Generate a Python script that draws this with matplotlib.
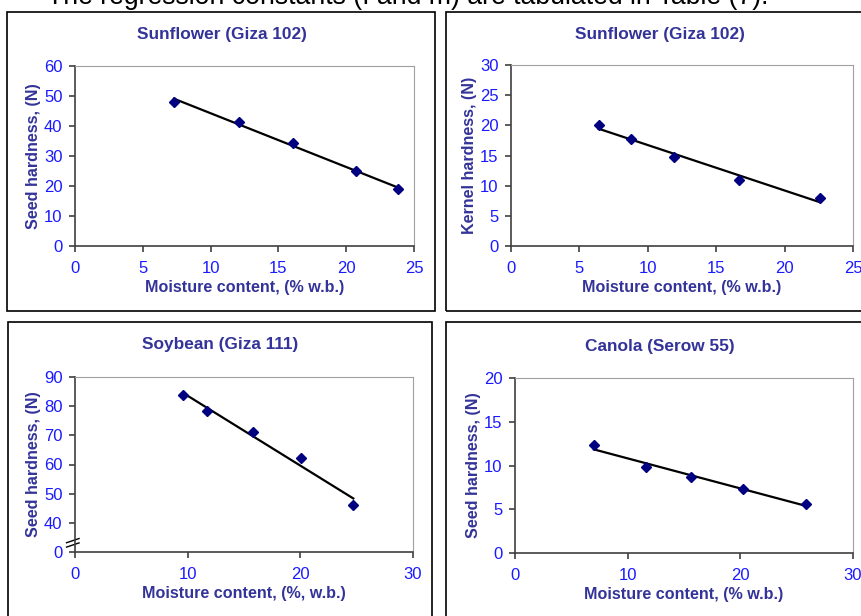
import numpy as np
import matplotlib
matplotlib.use('Agg')
import matplotlib.pyplot as plt
from matplotlib.patches import Rectangle

plt.rcParams['font.family'] = ['Liberation Sans', 'DejaVu Sans']

# Data (moisture content % w.b. vs hardness N)
sun_seed_mc = [7.3, 12.1, 16.1, 20.7, 23.8]
sun_seed_hard = [48.0, 41.5, 34.2, 24.9, 18.9]

sun_kernel_mc = [6.4, 8.8, 11.9, 16.7, 22.6]
sun_kernel_hard = [20.0, 17.7, 14.8, 10.9, 7.9]

soy_mc = [9.6, 11.7, 15.8, 20.1, 24.7]
soy_hard = [84.0, 78.2, 71.0, 62.1, 46.1]

canola_mc = [7.0, 11.6, 15.6, 20.2, 25.8]
canola_hard = [12.3, 9.8, 8.7, 7.3, 5.6]

titles = ['Sunflower (Giza 102)', 'Sunflower (Giza 102)', 'Soybean (Giza 111)', 'Canola (Serow 55)']
ylabels = ['Seed hardness, (N)', 'Kernel hardness, (N)', 'Seed hardness, (N)', 'Seed hardness, (N)']
xlabel = 'Moisture content, (% w.b.)'
soy_xlabel = 'Moisture content, (%, w.b.)'

navy = '#333399'
tick_blue = '#1a1aff'
marker_col = '#000080'

W, H = 861, 616
fig = plt.figure(figsize=(W / 100, H / 100), dpi=100)


def px_rect(x0, y0, x1, y1):
    # pixel box (top-left origin) -> figure fraction [l, b, w, h]
    return [x0 / W, 1 - y1 / H, (x1 - x0) / W, (y1 - y0) / H]


# panel frames
for (x0, y0, x1, y1) in [(7, 12, 435, 311), (446, 12, 875, 311),
                         (8, 322, 432, 630), (446, 322, 875, 630)]:
    l, b, w, h = px_rect(x0, y0, x1, y1)
    fig.patches.append(Rectangle((l, b), w, h, transform=fig.transFigure,
                                 fill=False, edgecolor='black', linewidth=1.2))

fig.text(47 / W, 1 - 4 / H, 'The regression constants (I and m) are tabulated in Table (7).',
         fontsize=19.2, ha='left', va='baseline', color='black')


def panel(rect, x, y, title, ylab, xlab, xmax, ymax, ystep, xstep, title_xy):
    ax = fig.add_axes(px_rect(*rect))
    ax.plot(x, y, linestyle='none', marker='D', markersize=4.8, color=marker_col, zorder=3)
    k, c = np.polyfit(x, y, 1)
    xs = np.array([min(x), max(x)])
    ax.plot(xs, k * xs + c, color='black', linewidth=1.6, zorder=2)
    ax.set_xlim(0, xmax)
    ax.set_ylim(0, ymax)
    ax.set_xticks(np.arange(0, xmax + 0.1, xstep))
    ax.set_yticks(np.arange(0, ymax + 0.1, ystep))
    for s in ['top', 'right']:
        ax.spines[s].set_color('#a0a0a0')
    for s in ['left', 'bottom']:
        ax.spines[s].set_color('#404040')
        ax.spines[s].set_linewidth(1.2)
    ax.tick_params(direction='out', length=4, width=1.2, color='#404040',
                   labelcolor=tick_blue, labelsize=12, pad=5)
    ax.tick_params(axis='x', pad=7)
    ax.set_xlabel(xlab, fontsize=11.6, fontweight='bold', color=navy, labelpad=3)
    ax.set_ylabel(ylab, fontsize=11.6, fontweight='bold', color=navy, labelpad=2)
    fig.text(title_xy[0] / W, 1 - title_xy[1] / H, title, fontsize=12.4, fontweight='bold',
             color=navy, ha='center', va='center')
    return ax


panel((75, 66, 414, 246), sun_seed_mc, sun_seed_hard, titles[0], ylabels[0], xlabel,
      25, 60, 10, 5, (222, 34))
panel((511, 65, 853, 246), sun_kernel_mc, sun_kernel_hard, titles[1], ylabels[1], xlabel,
      25, 30, 5, 5, (660, 34))
ax3 = panel((75, 377, 413, 552), soy_mc, soy_hard, titles[2], ylabels[2], soy_xlabel,
            30, 90, 10, 10, (220, 345))
# broken y axis: bottom tick stands for 0
ax3.set_ylim(30, 90)
ax3.set_yticks(np.arange(30, 91, 10))
ax3.set_yticklabels(['0', '40', '50', '60', '70', '80', '90'])
for dy in (0.04, 0.065):
    ax3.plot([-0.025, 0.012], [dy - 0.012, dy + 0.012], transform=ax3.transAxes,
             color='black', linewidth=1, clip_on=False)
panel((515, 378, 853, 553), canola_mc, canola_hard, titles[3], ylabels[3], xlabel,
      30, 20, 5, 10, (660, 346))

fig.savefig('out.png', dpi=100, facecolor='white')
